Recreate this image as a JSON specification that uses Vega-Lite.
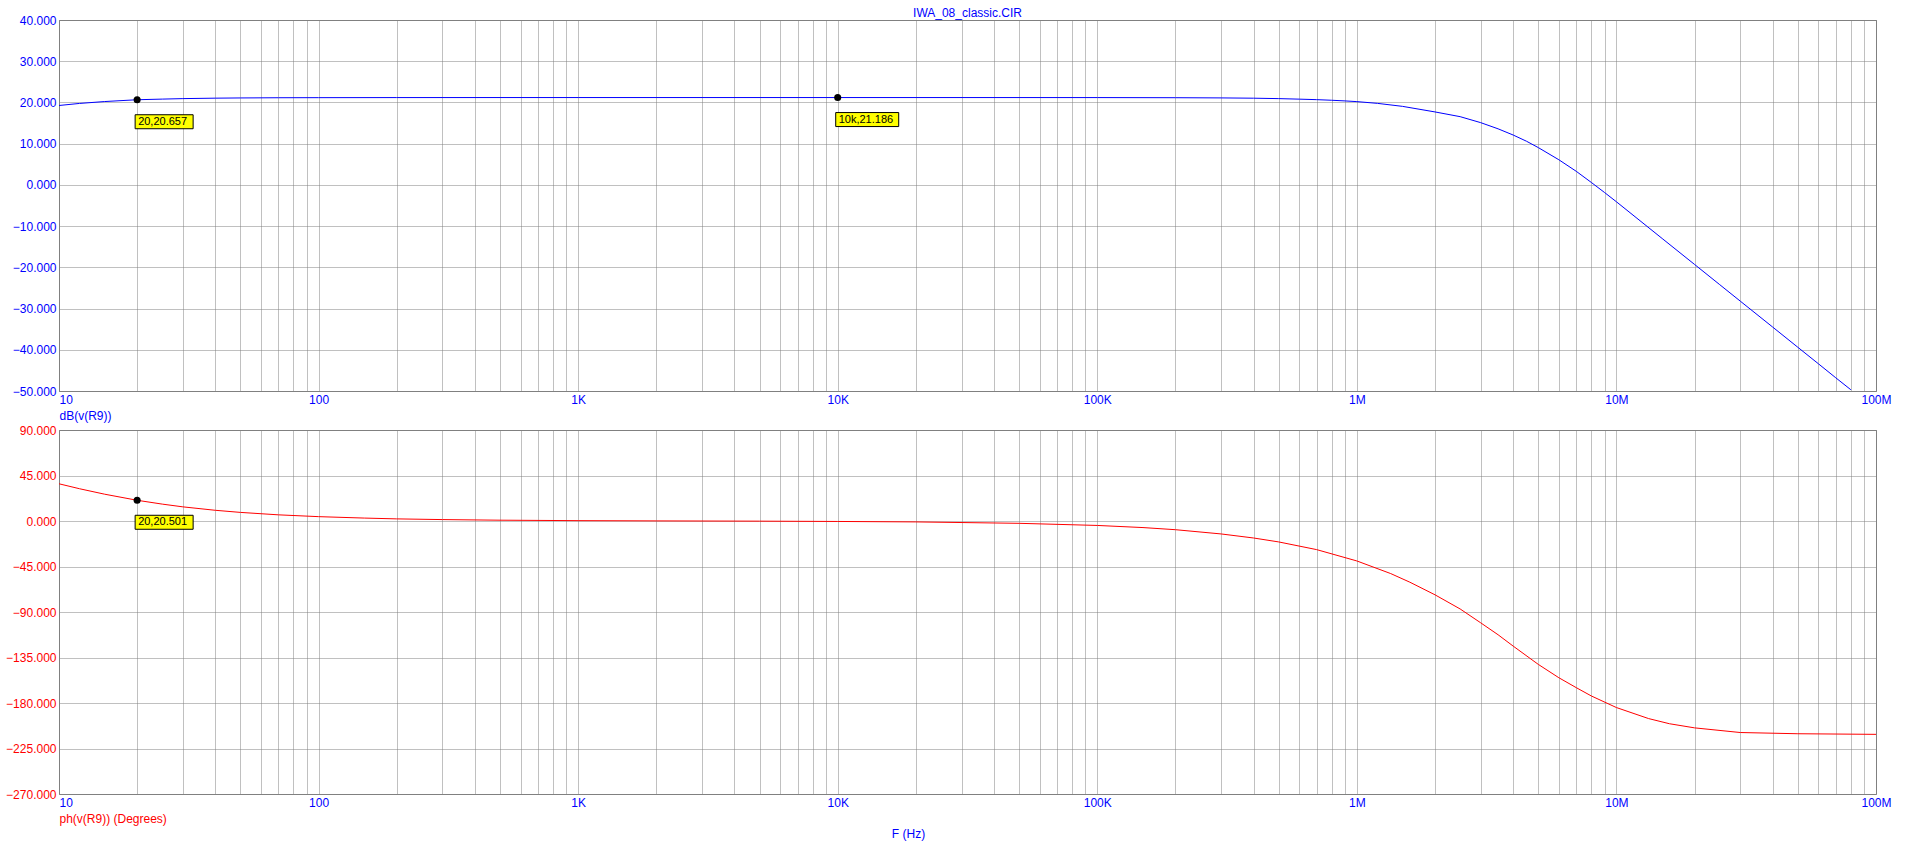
{
  "$schema": "https://vega.github.io/schema/vega-lite/v6.json",
  "background": "white",
  "padding": {"left": 5, "top": 6, "right": 5, "bottom": 5},
  "bounds": "flush",
  "spacing": 39,
  "config": {
    "font": "Liberation Sans",
    "view": {"stroke": "#808080", "strokeWidth": 1},
    "axis": {
      "labelFont": "Liberation Sans",
      "labelFontSize": 12,
      "ticks": false,
      "domain": false,
      "grid": true,
      "gridColor": "#808080",
      "gridDash": [1, 1],
      "gridOpacity": 1,
      "gridWidth": 1,
      "labelPadding": 3,
      "titleFont": "Liberation Sans",
      "titleFontSize": 12,
      "titleFontWeight": "normal"
    }
  },
  "resolve": {"scale": {"x": "independent", "y": "independent", "shape": "independent"}},
  "datasets": {
    "mag": [
      {"f": 10, "v": 19.26}, {"f": 12, "v": 19.76}, {"f": 15, "v": 20.22}, {"f": 20, "v": 20.657},
      {"f": 25, "v": 20.81}, {"f": 30, "v": 20.93}, {"f": 40, "v": 21.04}, {"f": 50, "v": 21.09},
      {"f": 70, "v": 21.14}, {"f": 100, "v": 21.16}, {"f": 200, "v": 21.18}, {"f": 500, "v": 21.186},
      {"f": 1000, "v": 21.186}, {"f": 10000, "v": 21.186}, {"f": 100000, "v": 21.18}, {"f": 200000, "v": 21.15},
      {"f": 300000, "v": 21.1}, {"f": 400000, "v": 21.03}, {"f": 500000, "v": 20.93}, {"f": 600000, "v": 20.8},
      {"f": 700000, "v": 20.68}, {"f": 800000, "v": 20.53}, {"f": 900000, "v": 20.37}, {"f": 1000000, "v": 20.2},
      {"f": 1200000, "v": 19.78}, {"f": 1500000, "v": 19.05}, {"f": 2000000, "v": 17.7}, {"f": 2500000, "v": 16.55},
      {"f": 3000000, "v": 15.1}, {"f": 3500000, "v": 13.6}, {"f": 4000000, "v": 12.1}, {"f": 4500000, "v": 10.6},
      {"f": 5000000, "v": 9.05}, {"f": 6000000, "v": 6.1}, {"f": 7000000, "v": 3.3}, {"f": 8000000, "v": 0.6},
      {"f": 9000000, "v": -1.85}, {"f": 10000000, "v": -4.1}, {"f": 12000000, "v": -8.1}, {"f": 15000000, "v": -13.0},
      {"f": 20000000, "v": -19.3}, {"f": 25000000, "v": -24.2}, {"f": 30000000, "v": -28.2}, {"f": 40000000, "v": -34.5},
      {"f": 50000000, "v": -39.4}, {"f": 60000000, "v": -43.4}, {"f": 70000000, "v": -46.8}, {"f": 80000000, "v": -49.7}
    ],
    "magMarks": [
      {"f": 20, "v": 20.657, "label": "20,20.657"},
      {"f": 10000, "v": 21.186, "label": "10k,21.186"}
    ],
    "ph": [
      {"f": 10, "v": 36.8}, {"f": 12, "v": 31.9}, {"f": 15, "v": 26.5}, {"f": 20, "v": 20.501},
      {"f": 25, "v": 16.7}, {"f": 30, "v": 14.0}, {"f": 40, "v": 10.6}, {"f": 50, "v": 8.5},
      {"f": 70, "v": 6.1}, {"f": 100, "v": 4.3}, {"f": 150, "v": 2.9}, {"f": 200, "v": 2.1},
      {"f": 300, "v": 1.4}, {"f": 500, "v": 0.8}, {"f": 1000, "v": 0.35}, {"f": 2000, "v": 0.1},
      {"f": 5000, "v": -0.15}, {"f": 10000, "v": -0.45}, {"f": 20000, "v": -0.9}, {"f": 50000, "v": -2.3},
      {"f": 100000, "v": -4.4}, {"f": 150000, "v": -6.5}, {"f": 200000, "v": -8.6}, {"f": 300000, "v": -12.8},
      {"f": 400000, "v": -16.8}, {"f": 500000, "v": -20.7}, {"f": 700000, "v": -28.3}, {"f": 1000000, "v": -39.5},
      {"f": 1350000, "v": -52}, {"f": 1600000, "v": -60.5}, {"f": 2000000, "v": -73}, {"f": 2500000, "v": -87},
      {"f": 3000000, "v": -100.7}, {"f": 3500000, "v": -112.5}, {"f": 4000000, "v": -123.7}, {"f": 5000000, "v": -141.8},
      {"f": 6000000, "v": -155}, {"f": 7000000, "v": -164.8}, {"f": 8000000, "v": -173}, {"f": 10000000, "v": -184.5},
      {"f": 13300000, "v": -195.4}, {"f": 16000000, "v": -200.5}, {"f": 20000000, "v": -204.6}, {"f": 30000000, "v": -209.2},
      {"f": 50000000, "v": -210.4}, {"f": 100000000, "v": -211}
    ],
    "phMarks": [
      {"f": 20, "v": 20.501, "label": "20,20.501"}
    ]
  },
  "vconcat": [
    {
      "title": {"text": "IWA_08_classic.CIR", "color": "#0000ff", "fontSize": 12, "fontWeight": "normal", "font": "Liberation Sans", "anchor": "middle", "offset": -15, "baseline": "alphabetic"},
      "width": 1817,
      "height": 371,
      "encoding": {
        "x": {
          "field": "f", "type": "quantitative",
          "scale": {"type": "log", "domain": [10, 100000000], "nice": false},
          "axis": {
            "title": null,
            "values": [10,20,30,40,50,60,70,80,90,100,200,300,400,500,600,700,800,900,1000,2000,3000,4000,5000,6000,7000,8000,9000,10000,20000,30000,40000,50000,60000,70000,80000,90000,100000,200000,300000,400000,500000,600000,700000,800000,900000,1000000,2000000,3000000,4000000,5000000,6000000,7000000,8000000,9000000,10000000,20000000,30000000,40000000,50000000,60000000,70000000,80000000,90000000,100000000],
            "labelExpr": "indexof([10,100,1000,10000,100000,1000000,10000000,100000000], datum.value) < 0 ? '' : datum.value >= 1000000 ? (datum.value / 1000000) + 'M' : datum.value >= 1000 ? (datum.value / 1000) + 'K' : '' + datum.value",
            "labelColor": "#0000ff",
            "labelOverlap": false,
            "labelBound": false,
            "labelFlush": false,
            "labelAlign": {"condition": {"test": "datum.value == 10", "value": "left"}, "value": "center"}
          }
        },
        "y": {
          "field": "v", "type": "quantitative",
          "scale": {"domain": [-50, 40], "nice": false, "zero": false},
          "axis": {
            "values": [-50,-40,-30,-20,-10,0,10,20,30,40],
            "format": ".3f",
            "labelColor": "#0000ff",
            "title": "dB(v(R9))",
            "titleColor": "#0000ff",
            "titleX": 0,
            "titleY": 395,
            "titleAngle": 0,
            "titleAlign": "left",
            "titleBaseline": "middle"
          }
        }
      },
      "layer": [
        {"data": {"name": "mag"}, "mark": {"type": "line", "color": "#0000ff", "strokeWidth": 1, "clip": true}},
        {"data": {"name": "magMarks"}, "mark": {"type": "point", "shape": "circle", "filled": true, "color": "black", "size": 50, "opacity": 1}},
        {"data": {"name": "magMarks"}, "mark": {"type": "point", "filled": true, "fill": "#ffff00", "stroke": "black", "strokeWidth": 1, "size": 400, "opacity": 1},
          "encoding": {"shape": {"field": "label", "type": "nominal", "legend": null,
            "scale": {"domain": ["20,20.657", "10k,21.186", "20,20.501"], "range": ["M -0.2 1.5 L 5.6 1.5 L 5.6 2.9 L -0.2 2.9 Z", "M -0.2 1.5 L 6.1 1.5 L 6.1 2.9 L -0.2 2.9 Z", "M -0.2 1.5 L 5.6 1.5 L 5.6 2.9 L -0.2 2.9 Z"]}}}},
        {"data": {"name": "magMarks"}, "mark": {"type": "text", "align": "left", "baseline": "middle", "dx": 1, "dy": 22, "fontSize": 11, "font": "Liberation Sans", "color": "black"},
          "encoding": {"text": {"field": "label", "type": "nominal"}}}
      ]
    },
    {
      "width": 1817,
      "height": 364,
      "encoding": {
        "x": {
          "field": "f", "type": "quantitative",
          "scale": {"type": "log", "domain": [10, 100000000], "nice": false},
          "axis": {
            "title": "F (Hz)",
            "titleColor": "#0000ff",
            "titleX": 849,
            "titleY": 39,
            "titleAlign": "center",
            "titleBaseline": "middle",
            "values": [10,20,30,40,50,60,70,80,90,100,200,300,400,500,600,700,800,900,1000,2000,3000,4000,5000,6000,7000,8000,9000,10000,20000,30000,40000,50000,60000,70000,80000,90000,100000,200000,300000,400000,500000,600000,700000,800000,900000,1000000,2000000,3000000,4000000,5000000,6000000,7000000,8000000,9000000,10000000,20000000,30000000,40000000,50000000,60000000,70000000,80000000,90000000,100000000],
            "labelExpr": "indexof([10,100,1000,10000,100000,1000000,10000000,100000000], datum.value) < 0 ? '' : datum.value >= 1000000 ? (datum.value / 1000000) + 'M' : datum.value >= 1000 ? (datum.value / 1000) + 'K' : '' + datum.value",
            "labelColor": "#0000ff",
            "labelOverlap": false,
            "labelBound": false,
            "labelFlush": false,
            "labelAlign": {"condition": {"test": "datum.value == 10", "value": "left"}, "value": "center"}
          }
        },
        "y": {
          "field": "v", "type": "quantitative",
          "scale": {"domain": [-270, 90], "nice": false, "zero": false},
          "axis": {
            "values": [-270,-225,-180,-135,-90,-45,0,45,90],
            "format": ".3f",
            "labelColor": "#ff0000",
            "title": "ph(v(R9)) (Degrees)",
            "titleColor": "#ff0000",
            "titleX": 0,
            "titleY": 388,
            "titleAngle": 0,
            "titleAlign": "left",
            "titleBaseline": "middle"
          }
        }
      },
      "layer": [
        {"data": {"name": "ph"}, "mark": {"type": "line", "color": "#ff0000", "strokeWidth": 1, "clip": true}},
        {"data": {"name": "phMarks"}, "mark": {"type": "point", "shape": "circle", "filled": true, "color": "black", "size": 50, "opacity": 1}},
        {"data": {"name": "phMarks"}, "mark": {"type": "point", "filled": true, "fill": "#ffff00", "stroke": "black", "strokeWidth": 1, "size": 400, "opacity": 1},
          "encoding": {"shape": {"field": "label", "type": "nominal", "legend": null,
            "scale": {"domain": ["20,20.657", "10k,21.186", "20,20.501"], "range": ["M -0.2 1.5 L 5.6 1.5 L 5.6 2.9 L -0.2 2.9 Z", "M -0.2 1.5 L 6.1 1.5 L 6.1 2.9 L -0.2 2.9 Z", "M -0.2 1.5 L 5.6 1.5 L 5.6 2.9 L -0.2 2.9 Z"]}}}},
        {"data": {"name": "phMarks"}, "mark": {"type": "text", "align": "left", "baseline": "middle", "dx": 1, "dy": 22, "fontSize": 11, "font": "Liberation Sans", "color": "black"},
          "encoding": {"text": {"field": "label", "type": "nominal"}}}
      ]
    }
  ]
}
